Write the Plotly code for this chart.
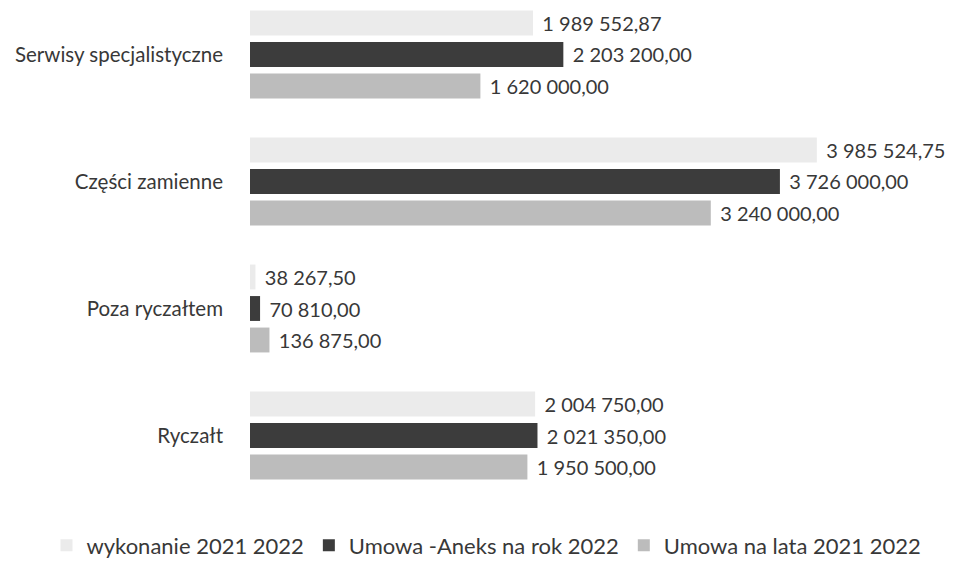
import plotly.graph_objects as go

categories = ["Ryczałt", "Poza ryczałtem", "Części zamienne", "Serwisy specjalistyczne"]
wykonanie = [2004750.00, 38267.50, 3985524.75, 1989552.87]
umowa_aneks = [2021350.00, 70810.00, 3726000.00, 2203200.00]
umowa_lata = [1950500.00, 136875.00, 3240000.00, 1620000.00]

series_names = ["Umowa na lata 2021 2022", "Umowa -Aneks na rok 2022", "wykonanie 2021 2022"]
series_values = [umowa_lata, umowa_aneks, wykonanie]
series_colors = ["#bcbcbc", "#3c3c3c", "#ebebeb"]


def fmt(v):
    s = f"{v:,.2f}"
    return s.replace(",", " ").replace(".", ",")


FONT = "Lato"
TXT = "#383838"
fig = go.Figure()
for name, vals, col in zip(series_names, series_values, series_colors):
    fig.add_trace(go.Bar(
        y=categories, x=vals, name=name, orientation="h",
        marker=dict(color=col, line=dict(width=0)),
        text=[" \u200a" + fmt(v) for v in vals], textposition="outside",
        textfont=dict(family=FONT, size=20, color=TXT),
        cliponaxis=False,
    ))

fig.update_layout(
    width=954, height=561,
    margin=dict(l=242, r=72, t=0, b=71, autoexpand=False),
    paper_bgcolor="white", plot_bgcolor="white",
    barmode="group", bargap=0.256, bargroupgap=0.21,
    font=dict(family=FONT, size=21, color=TXT),
    xaxis=dict(range=[0, 4.5e6], visible=False, showgrid=False),
    yaxis=dict(range=[-0.492, 3.366], showgrid=False, showline=False,
               ticks="", ticklabelstandoff=26, automargin=False,
               tickfont=dict(family=FONT, size=20.5, color=TXT)),
    legend=dict(orientation="h", traceorder="reversed",
                x=-0.318, xanchor="left", y=-0.097, yanchor="middle",
                font=dict(family=FONT, size=22, color=TXT),
                itemwidth=30),
    showlegend=True,
)

fig.write_html("out.html")
